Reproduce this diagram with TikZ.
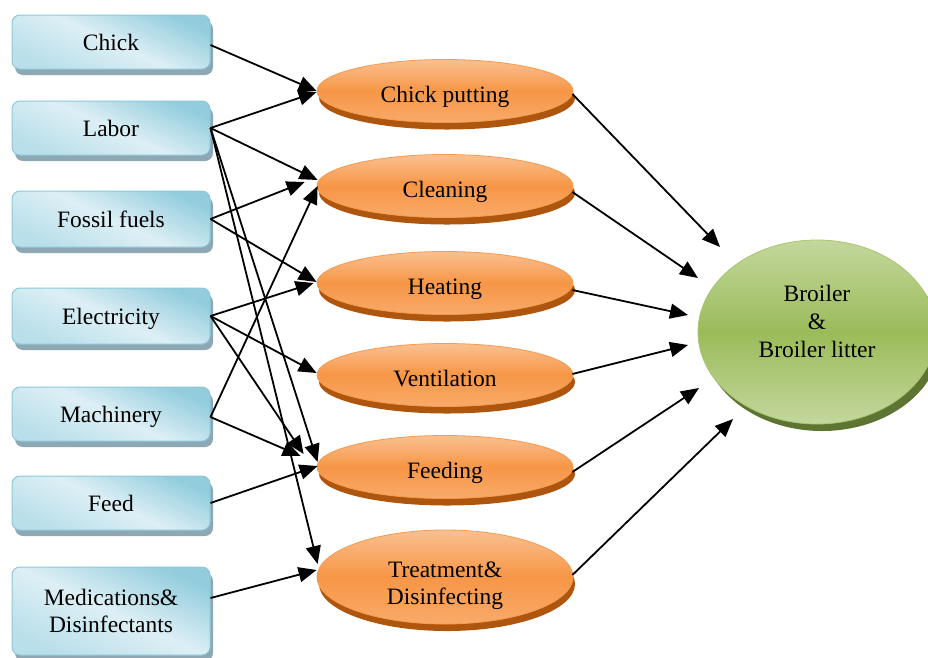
\documentclass[tikz,border=0pt]{standalone}
\usepackage{fontspec}
\setmainfont{Liberation Serif}
\usetikzlibrary{shapes.geometric,shadows,arrows.meta,calc}
\definecolor{bDark}{HTML}{93CDDD}
\definecolor{bLight}{HTML}{DDEFF5}
\definecolor{bLow}{HTML}{B9DFEA}
\definecolor{bEdge}{HTML}{8DC8D9}
\definecolor{bShadow}{HTML}{8EA8B3}
\definecolor{oMid}{HTML}{F79646}
\definecolor{oLight}{HTML}{FAC090}
\definecolor{oLow}{HTML}{F8AA6A}
\definecolor{oEdge}{HTML}{F59A50}
\definecolor{oShadow}{HTML}{AE560D}
\definecolor{gMid}{HTML}{9BBB59}
\definecolor{gLight}{HTML}{C4D79E}
\definecolor{gEdge}{HTML}{A9C56E}
\definecolor{gShadow}{HTML}{5E7432}
\begin{document}
\begin{tikzpicture}[x=1pt,y=-1pt,
  txtfont/.style={font=\fontsize{23.5}{27}\selectfont},
  inbox/.style={rounded corners=8pt, draw=bEdge, line width=1pt,
    minimum width=198pt, minimum height=54pt, inner sep=0pt,
    top color=bDark, bottom color=bLow, middle color=bLight, shading angle=-25,
    drop shadow={shadow xshift=3pt,shadow yshift=-6pt,fill=bShadow,opacity=1},
    txtfont, align=center},
  oneline/.style={text height=16pt, text depth=0pt},
  proc/.style={ellipse, draw=oEdge, line width=0.8pt,
    minimum width=256pt, minimum height=63pt, inner sep=0pt,
    top color=oLight, bottom color=oLow, middle color=oMid,
    drop shadow={shadow xshift=2pt,shadow yshift=-7pt,fill=oShadow,opacity=1},
    txtfont, text height=22pt, text depth=0pt},
  result/.style={ellipse, draw=gEdge, line width=0.8pt,
    minimum width=238pt, minimum height=184pt, inner sep=0pt,
    top color=gLight, bottom color=gLight, middle color=gMid,
    drop shadow={shadow xshift=5pt,shadow yshift=-7pt,fill=gShadow,opacity=1}},
  plaintext/.style={txtfont, align=center, inner sep=0pt},
  arr/.style={line width=1.8pt, -{Triangle[length=18pt,width=15pt]}}
]
\useasboundingbox (0,0) rectangle (928,657);
\clip (0,0) rectangle (928,657);

% input boxes
\node[inbox, oneline] (chick) at (111,42) {Chick};
\node[inbox, oneline] (labor) at (111,128) {Labor};
\node[inbox, oneline, minimum height=56pt] (fossil) at (111,219) {Fossil fuels};
\node[inbox, oneline, minimum height=56pt] (elec) at (111,316) {Electricity};
\node[inbox, oneline] (mach) at (111,414) {Machinery};
\node[inbox, oneline] (feed) at (111,503) {Feed};
\node[inbox, minimum height=88pt] (med) at (111,611) {Medications\&\\Disinfectants};

% processes
\node[proc] (cp) at (445,91) {Chick putting};
\node[proc] (cl) at (445,186) {Cleaning};
\node[proc] (ht) at (445,283) {Heating};
\node[proc] (vt) at (445,375) {Ventilation};
\node[proc] (fd) at (445,467) {Feeding};
\node[proc, minimum height=94pt] (tr) at (445,577) {};
\node[plaintext] (trT) at (445,586) {Treatment\&\\Disinfecting};

% result
\node[result] (br) at (817,332) {};
\node[plaintext, font=\fontsize{23.5}{28}\selectfont] (brT) at (817,321) {Broiler\\\&\\Broiler litter};

% end points near the result
\coordinate (b1) at (720,247);
\coordinate (b2) at (698,278);
\coordinate (b3) at (688,315);
\coordinate (b4) at (688,345);
\coordinate (b5) at (699,388);
\coordinate (b6) at (733,419);

% inputs to processes
\draw[arr] ($(chick.east)+(0,3)$) -- (cp.west);
\draw[arr] (labor.east) -- ($(cp.west)+(0,1)$);
\draw[arr] (labor.east) -- ($(cl.west)+(1,-6)$);
\draw[arr] (labor.east) -- ($(fd.west)+(1,-5)$);
\draw[arr] (labor.east) -- ($(tr.west)+(1,-13)$);
\draw[arr] (fossil.east) -- ($(cl.west)+(-12,-4)$);
\draw[arr] (fossil.east) -- ($(ht.west)+(0,-1)$);
\draw[arr] (elec.east) -- ($(ht.west)+(-3,0)$);
\draw[arr] (elec.east) -- ($(vt.west)+(0,-2)$);
\draw[arr] (elec.east) -- ($(fd.west)+(-13,-13)$);
\draw[arr] ($(mach.east)+(0,3)$) -- ($(cl.west)+(1,0)$);
\draw[arr] ($(mach.east)+(0,3)$) -- ($(fd.west)+(-16,-11)$);
\draw[arr] (feed.east) -- ($(fd.west)+(1,-1)$);
\draw[arr] ($(med.east)+(0,-13)$) -- ($(tr.west)+(0,-7)$);

% processes to result
\draw[arr] ($(cp.east)+(-1,3)$) -- (b1);
\draw[arr] ($(cl.east)+(-1,6)$) -- (b2);
\draw[arr] ($(ht.east)+(-1,7)$) -- (b3);
\draw[arr] ($(vt.east)+(-1,-1)$) -- (b4);
\draw[arr] ($(fd.east)+(-1,5)$) -- (b5);
\draw[arr] ($(tr.east)+(-1,-2)$) -- (b6);
\end{tikzpicture}
\end{document}
